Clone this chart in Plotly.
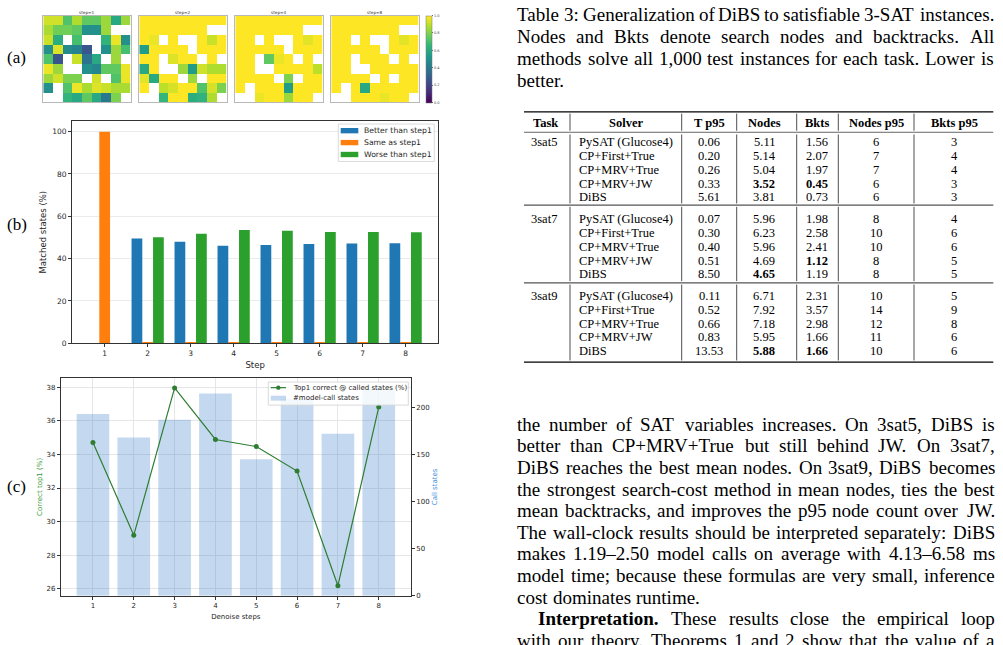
import plotly.graph_objects as go

W, H = 1003, 645
def X(p): return p / W
def Y(p): return 1 - p / H

N = None
# ---------------- (a) heatmaps ----------------
heat_titles = ["step=1", "step=2", "step=4", "step=8"]
heat_step1 = [
    [0.93, 0.93, 0.72, 0.88, 0.75, 0.75, 0.85, 0.60, 0.85],
    [0.87, 0.78, 0.78, 0.75, 0.50, 0.50, 0.85, N, N],
    [0.92, 0.62, N, 0.70, N, N, 0.65, 0.97, 0.50],
    [0.50, 0.95, 0.48, 0.45, 0.27, N, 0.50, 0.85, 0.70],
    [0.72, 0.27, N, 0.92, 0.38, 0.60, N, 0.85, N],
    [0.97, 0.85, N, N, 0.50, 0.46, 0.75, 0.75, 0.97],
    [0.85, 0.93, 0.80, 0.80, N, 0.93, N, 0.72, 0.97],
    [0.50, N, 0.72, 0.97, 0.87, 0.95, 0.92, 0.87, 0.87],
    [N, N, 0.65, 0.60, 0.75, 0.60, 0.40, 0.80, N],
]
heat_step2 = [
    [1, 1, 1, 1, 1, 1, 1, 1, 1],
    [1, 1, 1, 1, 1, 1, 1, N, N],
    [1, 0.97, N, 1, N, N, 1, 0.92, 1],
    [0.55, 1, 1, 1, 1, N, 1, 1, 1],
    [1, 1, N, 0.95, 1, 1, N, 1, N],
    [0.60, 1, N, N, 0.85, 0.55, 0.93, 0.88, 0.88],
    [0.96, 0.60, 1, 1, N, 0.85, N, 1, 1],
    [1, N, 0.90, 0.94, 1, 1, 0.72, 0.94, 0.80],
    [N, N, 0.66, 1, 1, 0.62, 0.64, 0.88, N],
]
heat_step4 = [
    [1, 1, 1, 1, 1, 1, 1, 1, 1],
    [1, 1, 1, 1, 1, 1, 1, N, N],
    [1, 1, N, 1, N, N, 1, 0.96, 1],
    [1, 1, 1, 1, 1, N, 1, 1, 1],
    [1, 1, N, 0.75, 0.97, 1, N, 1, N],
    [1, 1, N, N, 1, 1, 1, 1, 0.90],
    [1, 1, 1, 1, N, 0.80, N, 1, 1],
    [1, N, 1, 1, 1, 0.55, 1, 1, 1],
    [N, N, 0.97, 1, 1, 0.85, 1, 1, N],
]
heat_step8 = [
    [1, 1, 1, 1, 1, 1, 1, 1, 1],
    [1, 1, 1, 1, 1, 1, 1, N, N],
    [1, 1, N, 1, N, N, 1, 0.96, 1],
    [1, 1, 1, 1, 1, N, 1, 1, 1],
    [1, 1, N, 1, 1, 1, N, 1, N],
    [1, 1, N, N, 1, 1, 1, 1, 1],
    [1, 1, 1, 1, N, 1, N, 1, 1],
    [1, N, 1, 0.60, 1, 1, 1, 1, 1],
    [N, N, 1, 1, 1, 0.97, 1, 1, N],
]
heat_cols = list(range(9))
heat_rows = list(range(9))
cbar_ticks = [0.0, 0.2, 0.4, 0.6, 0.8, 1.0]

# ---------------- (b) matched states ----------------
steps = [1, 2, 3, 4, 5, 6, 7, 8]
better = [0, 49.5, 48.0, 46.1, 46.4, 46.9, 47.2, 47.3]
same = [100, 0.4, 0.2, 0.4, 0.4, 0.5, 0.2, 0.2]
worse = [0, 50.1, 51.8, 53.5, 53.2, 52.6, 52.6, 52.5]
b_names = ["Better than step1", "Same as step1", "Worse than step1"]
b_colors = ["#1f77b4", "#ff7f0e", "#2ca02c"]
b_yticks = [0, 20, 40, 60, 80, 100]

# ---------------- (c) denoise steps ----------------
denoise_steps = [1, 2, 3, 4, 5, 6, 7, 8]
top1_correct = [34.71, 29.19, 37.96, 34.89, 34.47, 33.01, 26.18, 36.82]
call_states = [193, 168, 187, 215, 145, 209, 172, 220]
c_names = ["Top1 correct @ called states (%)", "#model-call states"]
c_left_ticks = [26, 28, 30, 32, 34, 36, 38]
c_right_ticks = [0, 50, 100, 150, 200]

# ---------------- table ----------------
tab_headers = ["Task", "Solver", "T p95", "Nodes", "Bkts", "Nodes p95", "Bkts p95"]
tasks = ["3sat5", "3sat7", "3sat9"]
solvers = ["PySAT (Glucose4)", "CP+First+True", "CP+MRV+True", "CP+MRV+JW", "DiBS"]
t_p95 = [0.06, 0.20, 0.26, 0.33, 5.61, 0.07, 0.30, 0.40, 0.51, 8.50, 0.11, 0.52, 0.66, 0.83, 13.53]
nodes = [5.11, 5.14, 5.04, 3.52, 3.81, 5.96, 6.23, 5.96, 4.69, 4.65, 6.71, 7.92, 7.18, 5.95, 5.88]
bkts = [1.56, 2.07, 1.97, 0.45, 0.73, 1.98, 2.58, 2.41, 1.12, 1.19, 2.31, 3.57, 2.98, 1.66, 1.66]
nodes_p95 = [6, 7, 7, 6, 6, 8, 10, 10, 8, 8, 10, 14, 12, 11, 10]
bkts_p95 = [3, 4, 4, 3, 3, 4, 6, 6, 5, 5, 5, 9, 8, 6, 6]
bold_nodes = [3, 9, 14]
bold_bkts = [3, 8, 14]

caption_lines = [
    "Table 3: Generalization of DiBS to satisfiable 3-SAT instances.",
    "Nodes and Bkts denote search nodes and backtracks. All",
    "methods solve all 1,000 test instances for each task. Lower is",
    "better.",
]
body_lines = [
    "the number of SAT variables increases. On 3sat5, DiBS is",
    "better than CP+MRV+True but still behind JW. On 3sat7,",
    "DiBS reaches the best mean nodes. On 3sat9, DiBS becomes",
    "the strongest search-cost method in mean nodes, ties the best",
    "mean backtracks, and improves the p95 node count over JW.",
    "The wall-clock results should be interpreted separately: DiBS",
    "makes 1.19–2.50 model calls on average with 4.13–6.58 ms",
    "model time; because these formulas are very small, inference",
    "cost dominates runtime.",
    "*Interpretation.* These results close the empirical loop",
    "with our theory. Theorems 1 and 2 show that the value of a",
]

# ---------------- font metrics (Times) ----------------
TIMES = {' ': 250, '!': 333, '%': 833, '(': 333, ')': 333, '+': 564, ',': 250, '-': 333, '.': 250,
         ':': 278, ';': 278, '@': 921, '–': 500,
         'A': 722, 'B': 667, 'C': 667, 'D': 722, 'E': 611, 'F': 556, 'G': 722, 'H': 722, 'I': 333,
         'J': 389, 'K': 722, 'L': 611, 'M': 889, 'N': 722, 'O': 722, 'P': 556, 'Q': 722, 'R': 667,
         'S': 556, 'T': 611, 'U': 722, 'V': 722, 'W': 944, 'X': 722, 'Y': 722, 'Z': 611,
         'a': 444, 'b': 500, 'c': 444, 'd': 500, 'e': 444, 'f': 333, 'g': 500, 'h': 500, 'i': 278,
         'j': 278, 'k': 500, 'l': 278, 'm': 778, 'n': 500, 'o': 500, 'p': 500, 'q': 500, 'r': 333,
         's': 389, 't': 278, 'u': 500, 'v': 500, 'w': 722, 'x': 500, 'y': 500, 'z': 444}
for d in '0123456789':
    TIMES[d] = 500
TIMES_B = dict(TIMES)
TIMES_B.update({'I': 389, 'n': 556, 't': 333, 'e': 444, 'r': 444, 'p': 556, 'a': 500, 'i': 278,
                'o': 500, '.': 250})

def tw(s, size, bold=False):
    t = TIMES_B if bold else TIMES
    return sum(t.get(ch, 500) for ch in s) * size / 1000.0

SERIF = "Liberation Serif"
SANS = "DejaVu Sans"

fig = go.Figure()
layout = {}
annotations = []
shapes = []

# ---------------- (a) ----------------
hm_left = [43.3, 139.3, 235.3, 331.3]
hm_w = 87.3
hm_top, hm_bot = 15.7, 103.3
heat_data = [heat_step1, heat_step2, heat_step4, heat_step8]
for i, (z, title) in enumerate(zip(heat_data, heat_titles)):
    n = i + 1
    xa = 'x' if n == 1 else f'x{n}'
    ya = 'y' if n == 1 else f'y{n}'
    kw = {}
    if n == 4:
        kw['colorbar'] = dict(x=X(426.3), xanchor='left', y=Y(hm_top), yanchor='top',
                              len=(hm_bot - hm_top) / H, lenmode='fraction', thickness=6,
                              thicknessmode='pixels', xpad=0, ypad=0, outlinewidth=0.5,
                              outlinecolor='#777', tickvals=cbar_ticks,
                              ticktext=[f'{v:.1f}' for v in cbar_ticks],
                              tickfont=dict(size=3.5, family=SANS, color='#444'),
                              ticks='outside', ticklen=1.5, tickwidth=0.4, tickcolor='#666')
    fig.add_trace(go.Heatmap(z=z, x=heat_cols, y=heat_rows, xaxis=xa, yaxis=ya,
                             colorscale='Viridis', zmin=0, zmax=1, showscale=(n == 4),
                             hoverongaps=False, **kw))
    sfx = '' if n == 1 else str(n)
    layout['xaxis' + sfx] = dict(domain=[X(hm_left[i]), X(hm_left[i] + hm_w)], range=[-0.5, 8.5],
                                 anchor=ya, showticklabels=False, ticks='', showgrid=False,
                                 zeroline=False, showline=True, mirror=True,
                                 linecolor='#b8b8b8', linewidth=1)
    layout['yaxis' + sfx] = dict(domain=[Y(hm_bot), Y(hm_top)], range=[8.5, -0.5],
                                 anchor=xa, showticklabels=False, ticks='', showgrid=False,
                                 zeroline=False, showline=True, mirror=True,
                                 linecolor='#b8b8b8', linewidth=1)
    annotations.append(dict(x=X(hm_left[i] + hm_w / 2), y=Y(12.2), xref='paper', yref='paper',
                            text=title, showarrow=False, xanchor='center', yanchor='middle',
                            font=dict(size=4.2, family=SANS, color='#333')))

# ---------------- (b) ----------------
offsets = [-0.375, -0.125, 0.125]
for vals, name, col, off in zip([better, same, worse], b_names, b_colors, offsets):
    fig.add_trace(go.Bar(x=steps, y=vals, name=name, xaxis='x5', yaxis='y5', width=0.25,
                         offset=off, marker=dict(color=col, line=dict(width=0))))
tickfont_b = dict(size=7.5, family=SANS, color='#262626')
layout['xaxis5'] = dict(domain=[X(72), X(438.3)], range=[0.24, 8.76], anchor='y5',
                        tickvals=steps, ticks='outside', ticklen=3, tickwidth=0.8, tickcolor='#333',
                        showgrid=False, zeroline=False, showline=True, mirror=True,
                        linecolor='#333', linewidth=0.8, tickfont=tickfont_b,
                        title=dict(text='Step', font=dict(size=8.5, family=SANS, color='#262626'),
                                   standoff=4))
layout['yaxis5'] = dict(domain=[Y(346), Y(122)], range=[0, 105], anchor='x5',
                        tickvals=b_yticks, ticks='outside', ticklen=3, tickwidth=0.8, tickcolor='#333',
                        showgrid=True, gridcolor='#ebebeb', gridwidth=0.8, zeroline=False,
                        showline=True, mirror=True, linecolor='#333', linewidth=0.8,
                        tickfont=tickfont_b,
                        title=dict(text='Matched states (%)',
                                   font=dict(size=8.5, family=SANS, color='#262626'), standoff=4))

# legend (b)
shapes.append(dict(type='rect', xref='paper', yref='paper', x0=X(338.3), x1=X(434.3),
                   y0=Y(162.7), y1=Y(125), fillcolor='rgba(255,255,255,0.85)',
                   line=dict(color='#d0d0d0', width=0.8)))
for k, (name, col) in enumerate(zip(b_names, b_colors)):
    yc = 131.7 + k * 12.0
    shapes.append(dict(type='rect', xref='paper', yref='paper', x0=X(340.7), x1=X(358.3),
                       y0=Y(yc + 2.7), y1=Y(yc - 2.7), fillcolor=col, line=dict(width=0)))
    annotations.append(dict(x=X(363.3), y=Y(yc), xref='paper', yref='paper', text=name,
                            showarrow=False, xanchor='left', yanchor='middle', borderpad=0,
                            font=dict(size=7.7, family=SANS, color='#262626')))

# ---------------- (c) ----------------
bar_col = 'rgba(60,130,205,0.30)'
line_col = '#2e7d32'
fig.add_trace(go.Bar(x=denoise_steps, y=call_states, name=c_names[1], xaxis='x6', yaxis='y6',
                     width=0.8, marker=dict(color=bar_col, line=dict(width=0))))
fig.add_trace(go.Scatter(x=denoise_steps, y=top1_correct, name=c_names[0], xaxis='x6', yaxis='y7',
                         mode='lines+markers', line=dict(color=line_col, width=1.2),
                         marker=dict(color=line_col, size=5)))
tickfont_c = dict(size=7, family=SANS, color='#262626')
grid_c = '#e6e6e6'
layout['xaxis6'] = dict(domain=[X(60.7), X(411)], range=[0.21, 8.79], anchor='y6',
                        tickvals=denoise_steps, ticks='outside', ticklen=3, tickwidth=0.8,
                        tickcolor='#333', showgrid=True, gridcolor=grid_c, gridwidth=0.8,
                        zeroline=False, showline=True, mirror=True, linecolor='#333',
                        linewidth=0.8, tickfont=tickfont_c,
                        title=dict(text='Denoise steps', font=dict(size=7, family=SANS, color='#262626'),
                                   standoff=5))
layout['yaxis6'] = dict(domain=[Y(600.3), Y(381)], range=[0, 231.3], anchor='x6', side='right',
                        tickvals=c_right_ticks, ticks='outside', ticklen=3, tickwidth=0.8,
                        tickcolor='#333', showgrid=False, zeroline=False, showline=True,
                        linecolor='#333', linewidth=0.8, tickfont=tickfont_c,
                        title=dict(text='Call states', font=dict(size=7, family=SANS, color='#3f8fdc'),
                                   standoff=3))
layout['yaxis7'] = dict(range=[25.59, 38.55], anchor='x6', overlaying='y6', side='left',
                        tickvals=c_left_ticks, ticks='outside', ticklen=3, tickwidth=0.8,
                        tickcolor='#333', showgrid=True, gridcolor=grid_c, gridwidth=0.8,
                        zeroline=False, showline=True, linecolor='#333', linewidth=0.8,
                        tickfont=tickfont_c,
                        title=dict(text='Correct top1 (%)', font=dict(size=7, family=SANS, color='#3a9a3a'),
                                   standoff=3))

# legend (c)
shapes.append(dict(type='rect', xref='paper', yref='paper', x0=X(268.3), x1=X(408.3),
                   y0=Y(408.3), y1=Y(385), fillcolor='rgba(255,255,255,0.8)',
                   line=dict(color='#d0d0d0', width=0.8)))
shapes.append(dict(type='line', xref='paper', yref='paper', x0=X(270.7), x1=X(286),
                   y0=Y(390.7), y1=Y(390.7), line=dict(color=line_col, width=1.2)))
shapes.append(dict(type='circle', xref='paper', yref='paper', x0=X(276.1), x1=X(280.5),
                   y0=Y(392.9), y1=Y(388.5), fillcolor=line_col, line=dict(width=0)))
shapes.append(dict(type='rect', xref='paper', yref='paper', x0=X(270.7), x1=X(286),
                   y0=Y(403.8), y1=Y(398.8), fillcolor=bar_col, line=dict(width=0)))
for k, name in enumerate(c_names):
    annotations.append(dict(x=X(291.7), y=Y(390.7 + k * 10.6), xref='paper', yref='paper',
                            text=name, showarrow=False, xanchor='left', yanchor='middle',
                            borderpad=0, font=dict(size=7, family=SANS, color='#262626')))

# panel labels
for lab, yc in [("(a)", 58), ("(b)", 226.7), ("(c)", 490)]:
    annotations.append(dict(x=X(16.7), y=Y(yc), xref='paper', yref='paper', text=lab,
                            showarrow=False, xanchor='center', yanchor='middle',
                            font=dict(size=17, family=SERIF, color='black')))

# ---------------- text helpers ----------------
def add_text_line(line, x0, x1, yc, size, justify):
    words = line.split(' ')
    items = []
    for w in words:
        bold = w.startswith('*') and w.endswith('*')
        items.append((w.strip('*'), bold))
    widths = [tw(w, size, b) for w, b in items]
    if justify and len(items) > 1:
        gap = (x1 - x0 - sum(widths)) / (len(items) - 1)
    else:
        gap = TIMES[' '] * size / 1000.0
    x = x0
    for j, ((w, b), wd) in enumerate(zip(items, widths)):
        last = justify and j == len(items) - 1 and len(items) > 1
        annotations.append(dict(x=X(x1 if last else x), y=Y(yc), xref='paper', yref='paper',
                                text=f'<b>{w}</b>' if b else w, showarrow=False,
                                xanchor='right' if last else 'left', yanchor='middle',
                                borderpad=0, borderwidth=0,
                                font=dict(size=size, family=SERIF, color='black')))
        x += wd + gap

TXT = 19
for k, line in enumerate(caption_lines):
    add_text_line(line, 517.3, 993.5, 15 + k * 22.2, TXT, justify=(k < len(caption_lines) - 1))
for k, line in enumerate(body_lines):
    x0 = 538.3 if line.startswith('*') else 517.3
    add_text_line(line, x0, 994.5, 427.6 + k * 21.77, TXT, justify=(k != 8))

# ---------------- table ----------------
TF = 12.5
col_centers = [545, 626, 709.3, 764, 817.3, 876, 954.3]
for h, cx in zip(tab_headers, col_centers):
    annotations.append(dict(x=X(cx), y=Y(124), xref='paper', yref='paper', text=f'<b>{h}</b>',
                            showarrow=False, xanchor='center', yanchor='middle', borderpad=0,
                            font=dict(size=TF, family=SERIF, color='black')))
group_starts = [143.4, 221.0, 298.3]
row_step = 13.9
for g, task in enumerate(tasks):
    y0 = group_starts[g]
    annotations.append(dict(x=X(530), y=Y(y0), xref='paper', yref='paper', text=task,
                            showarrow=False, xanchor='left', yanchor='middle', borderpad=0,
                            font=dict(size=TF, family=SERIF, color='black')))
    for r, solver in enumerate(solvers):
        idx = g * len(solvers) + r
        yc = y0 + r * row_step
        cells = [
            (solver, 578.3, 'left', False),
            (f'{t_p95[idx]:.2f}', col_centers[2], 'center', False),
            (f'{nodes[idx]:.2f}', col_centers[3], 'center', idx in bold_nodes),
            (f'{bkts[idx]:.2f}', col_centers[4], 'center', idx in bold_bkts),
            (str(nodes_p95[idx]), col_centers[5], 'center', False),
            (str(bkts_p95[idx]), col_centers[6], 'center', False),
        ]
        for txt, cx, anc, b in cells:
            annotations.append(dict(x=X(cx), y=Y(yc), xref='paper', yref='paper',
                                    text=f'<b>{txt}</b>' if b else txt, showarrow=False,
                                    xanchor=anc, yanchor='middle', borderpad=0,
                                    font=dict(size=TF, family=SERIF, color='black')))

tab_x0, tab_x1 = 524, 993.3
for yy, wdt, colr in [(112.7, 1.3, '#000'), (133.3, 0.7, '#222'), (206.7, 1.2, '#555'),
                      (285.0, 1.2, '#555'), (365.0, 1.3, '#000')]:
    shapes.append(dict(type='line', xref='paper', yref='paper', x0=X(tab_x0), x1=X(tab_x1),
                       y0=Y(yy), y1=Y(yy), line=dict(color=colr, width=wdt)))
vlines_x = [570, 681.7, 736.7, 796.7, 838.3, 914]
segments = [(114.5, 131.8), (135.5, 205.0), (208.5, 283.3), (286.8, 363.3)]
for vx in vlines_x:
    for (s0, s1) in segments:
        shapes.append(dict(type='line', xref='paper', yref='paper', x0=X(vx), x1=X(vx),
                           y0=Y(s0), y1=Y(s1), line=dict(color='#222', width=0.8)))

fig.update_layout(width=W, height=H, margin=dict(l=0, r=0, t=0, b=0, pad=0), autosize=False,
                  paper_bgcolor='white', plot_bgcolor='white', showlegend=False,
                  barmode='overlay', annotations=annotations, shapes=shapes, **layout)
fig.write_html("out.html", config={'displayModeBar': False},
               post_script="document.body.style.margin='0px';document.body.style.overflow='hidden';")
